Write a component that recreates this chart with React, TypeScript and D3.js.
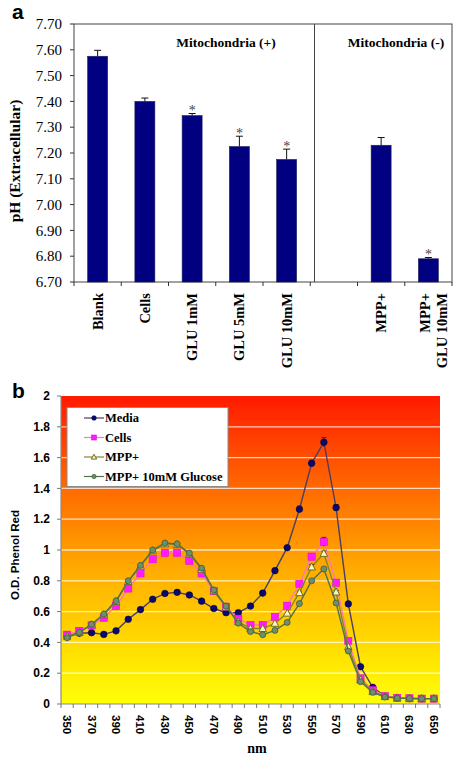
import React from "react";
import * as d3 from "d3";

// ---------- Panel a data ----------
const phCategories = ["Blank", "Cells", "GLU 1mM", "GLU 5mM", "GLU 10mM", "", "MPP+", "MPP+|GLU 10mM"];
const phValues = [7.575, 7.4, 7.345, 7.225, 7.175, NaN, 7.23, 6.79];
const phErrors = [0.023, 0.013, 0.008, 0.04, 0.04, NaN, 0.03, 0.005];
const phStars = [false, false, true, true, true, false, false, true];
const phTicks = [6.7, 6.8, 6.9, 7.0, 7.1, 7.2, 7.3, 7.4, 7.5, 7.6, 7.7];
const phSections = ["Mitochondria (+)", "Mitochondria (-)"];

// ---------- Panel b data ----------
const wavelengths = [350, 360, 370, 380, 390, 400, 410, 420, 430, 440, 450, 460, 470, 480, 490, 500,
  510, 520, 530, 540, 550, 560, 570, 580, 590, 600, 610, 620, 630, 640, 650];
const wavelengthLabels = [350, 370, 390, 410, 430, 450, 470, 490, 510, 530, 550, 570, 590, 610, 630, 650];
const mediaOD = [0.44, 0.46, 0.463, 0.452, 0.475, 0.55, 0.613, 0.68, 0.718, 0.725, 0.708, 0.668, 0.62, 0.593, 0.593, 0.636,
  0.72, 0.866, 1.015, 1.265, 1.563, 1.70, 1.275, 0.65, 0.242, 0.108, 0.05, 0.04, 0.035, 0.035, 0.035];
const cellsOD = [0.45, 0.475, 0.51, 0.56, 0.636, 0.75, 0.848, 0.94, 0.982, 0.982, 0.93, 0.848, 0.733, 0.632, 0.554, 0.513,
  0.513, 0.565, 0.638, 0.78, 0.957, 1.052, 0.788, 0.41, 0.167, 0.09, 0.052, 0.04, 0.037, 0.035, 0.035];
const mppOD = [0.44, 0.465, 0.515, 0.58, 0.665, 0.795, 0.895, 0.995, 1.04, 1.035, 0.975, 0.875, 0.735, 0.63, 0.535, 0.49,
  0.49, 0.524, 0.59, 0.723, 0.89, 0.978, 0.727, 0.372, 0.156, 0.08, 0.048, 0.04, 0.037, 0.035, 0.035];
const mppGluOD = [0.43, 0.465, 0.518, 0.584, 0.67, 0.80, 0.90, 1.0, 1.045, 1.04, 0.98, 0.882, 0.74, 0.636, 0.525, 0.47,
  0.45, 0.478, 0.53, 0.652, 0.80, 0.877, 0.656, 0.344, 0.145, 0.076, 0.045, 0.038, 0.036, 0.035, 0.035];
const mediaErr = [0, 0, 0, 0, 0, 0, 0, 0, 0, 0, 0, 0, 0, 0, 0, 0, 0, 0, 0, 0.02, 0.02, 0.03, 0.02, 0, 0, 0, 0, 0, 0, 0, 0];
const cellsErr = [0, 0, 0, 0, 0, 0, 0, 0, 0, 0, 0, 0, 0, 0, 0, 0, 0, 0, 0, 0, 0.02, 0.03, 0.015, 0, 0, 0, 0, 0, 0, 0, 0];
const mppErr = [0, 0, 0, 0.01, 0, 0, 0, 0, 0, 0, 0, 0, 0, 0, 0, 0, 0, 0, 0, 0.01, 0.015, 0.015, 0.01, 0, 0, 0, 0, 0, 0, 0, 0];
const mppGluErr = [0, 0, 0, 0, 0, 0, 0, 0, 0, 0, 0, 0, 0, 0, 0, 0, 0, 0, 0, 0, 0, 0, 0, 0, 0, 0, 0, 0, 0, 0, 0];
const odTicks = [0, 0.2, 0.4, 0.6, 0.8, 1, 1.2, 1.4, 1.6, 1.8, 2];
const seriesNames = ["Media", "Cells", "MPP+", "MPP+ 10mM Glucose"];

const SERIF = "'Liberation Serif', 'Times New Roman', serif";
const SANS = "'Liberation Sans', Arial, sans-serif";

type Series = { name: string; values: number[]; err: number[]; line: string; marker: string };

const series: Series[] = [
  { name: seriesNames[0], values: mediaOD, err: mediaErr, line: "#4a3f63", marker: "circleNavy" },
  { name: seriesNames[1], values: cellsOD, err: cellsErr, line: "#ff78b0", marker: "square" },
  { name: seriesNames[2], values: mppOD, err: mppErr, line: "#85852e", marker: "triangle" },
  { name: seriesNames[3], values: mppGluOD, err: mppGluErr, line: "#55704f", marker: "circleGreen" },
];

function Marker({ kind, x, y, s = 1 }: { kind: string; x: number; y: number; s?: number }) {
  if (kind === "circleNavy") return <circle cx={x} cy={y} r={3.3 * s} fill="#0a0a6e" stroke="#000040" strokeWidth={0.6} />;
  if (kind === "square") return <rect x={x - 3.6 * s} y={y - 3.6 * s} width={7.2 * s} height={7.2 * s} fill="#ff1aff" stroke="#e000e0" strokeWidth={0.5} />;
  if (kind === "triangle")
    return <path d={`M${x},${y - 4 * s}L${x + 3.8 * s},${y + 3 * s}L${x - 3.8 * s},${y + 3 * s}Z`} fill="#fbf6c0" stroke="#6f6f20" strokeWidth={1} />;
  return <circle cx={x} cy={y} r={3 * s} fill="#6f8f6a" stroke="#3f5a3c" strokeWidth={0.8} />;
}

function PanelA() {
  const left = 74, right = 452, top = 24, bottom = 282;
  const idx = phCategories.map((_, i) => String(i));
  const x = d3.scaleBand<string>().domain(idx).range([left, right]).paddingInner(0.577).paddingOuter(0.2885);
  const y = d3.scaleLinear().domain([6.7, 7.7]).range([bottom, top]);
  const step = x.step();
  const bw = x.bandwidth();
  const boundaries = d3.range(phCategories.length + 1).map((i) => left + i * step);
  const dividerX = (x("5") as number) - step * 0.41 + bw * 0.5;
  return (
    <g>
      <text x={12} y={19} fontFamily={SANS} fontWeight="bold" fontSize={21}>a</text>
      <rect x={left} y={top} width={right - left} height={bottom - top} fill="none" stroke="#444" strokeWidth={1} />
      <line x1={dividerX} x2={dividerX} y1={top} y2={bottom} stroke="#444" strokeWidth={1} />
      {phTicks.map((t) => (
        <g key={t}>
          <line x1={left - 4} x2={left} y1={y(t)} y2={y(t)} stroke="#333" />
          <text x={62} y={y(t)} dy="0.35em" textAnchor="end" fontFamily={SERIF} fontSize={15}>{t.toFixed(2)}</text>
        </g>
      ))}
      {boundaries.map((bx, i) => (
        <line key={i} x1={bx} x2={bx} y1={bottom} y2={bottom + 4} stroke="#333" />
      ))}
      {phValues.map((v, i) => {
        if (isNaN(v)) return null;
        const bx = x(String(i)) as number;
        const cx = bx + bw / 2;
        const ye = y(v + phErrors[i]);
        return (
          <g key={i}>
            <line x1={cx} x2={cx} y1={y(v)} y2={ye} stroke="#111" strokeWidth={1} />
            <line x1={cx - 3.5} x2={cx + 3.5} y1={ye} y2={ye} stroke="#111" strokeWidth={1} />
            <rect x={bx} y={y(v)} width={bw} height={bottom - y(v)} fill="#000080" stroke="#20205a" strokeWidth={0.6} />
            {phStars[i] && (
              <text x={cx} y={ye + 1.5} textAnchor="middle" fontFamily={SERIF} fontSize={14} fill="#444444">*</text>
            )}
          </g>
        );
      })}
      <text x={226} y={47} textAnchor="middle" fontFamily={SERIF} fontWeight="bold" fontSize={13.5}>{phSections[0]}</text>
      <text x={396} y={47} textAnchor="middle" fontFamily={SERIF} fontWeight="bold" fontSize={13.5}>{phSections[1]}</text>
      {phCategories.map((c, i) => {
        if (!c) return null;
        const cx = (x(String(i)) as number) + bw / 2;
        const lines = c.split("|");
        const offs = lines.length === 1 ? [0] : [-3, 14];
        return lines.map((ln, j) => (
          <text key={i + "-" + j} transform={`translate(${cx + offs[j]},${bottom + 11}) rotate(-90)`} dy="0.35em" textAnchor="end" fontFamily={SERIF} fontWeight="bold" fontSize={14.5}>{ln}</text>
        ));
      })}
      <text transform={`translate(15,${(top + bottom) / 2 + 8}) rotate(-90)`} dy="0.35em" textAnchor="middle" fontFamily={SERIF} fontWeight="bold" fontSize={15.5}>pH (Extracellular)</text>
    </g>
  );
}

function PanelB() {
  const left = 61, right = 440, top = 396, bottom = 704;
  const x = d3.scalePoint<number>().domain(wavelengths).range([left, right]).padding(0.5);
  const y = d3.scaleLinear().domain([0, 2]).range([bottom, top]);
  const step = x.step();
  const boundaries = d3.range(wavelengths.length + 1).map((i) => left + i * step);
  const line = (vals: number[]) =>
    d3.line<number>().x((_, i) => x(wavelengths[i]) as number).y((d) => y(d))(vals) as string;
  const legendY = [418, 437.5, 457, 476.5];
  return (
    <g>
      <defs>
        <linearGradient id="fire" x1="0" y1="0" x2="0" y2="1">
          <stop offset="0%" stopColor="#ff1a00" />
          <stop offset="30%" stopColor="#ff6a00" />
          <stop offset="60%" stopColor="#ffb400" />
          <stop offset="85%" stopColor="#ffe400" />
          <stop offset="100%" stopColor="#ffff08" />
        </linearGradient>
      </defs>
      <text x={12} y={398} fontFamily={SANS} fontWeight="bold" fontSize={21}>b</text>
      <rect x={left} y={top} width={right - left} height={bottom - top} fill="url(#fire)" />
      {odTicks.slice(1, -1).map((t) => (
        <line key={t} x1={left} x2={right} y1={y(t)} y2={y(t)} stroke="#ffffff" strokeOpacity={0.75} strokeWidth={1.3} />
      ))}
      <line x1={left} x2={left} y1={top} y2={bottom} stroke="#8a8a8a" strokeWidth={1.2} />
      <line x1={left} x2={right} y1={bottom} y2={bottom} stroke="#8a8a8a" strokeWidth={1.2} />
      {odTicks.map((t) => (
        <g key={t}>
          <line x1={left - 4} x2={left} y1={y(t)} y2={y(t)} stroke="#777" />
          <text x={50} y={y(t)} dy="0.35em" textAnchor="end" fontFamily={SANS} fontWeight="bold" fontSize={12}>{String(+t.toFixed(1))}</text>
        </g>
      ))}
      {boundaries.map((bx, i) => (
        <line key={i} x1={bx} x2={bx} y1={bottom} y2={bottom + 4} stroke="#777" />
      ))}
      {wavelengthLabels.map((w) => (
        <text key={w} transform={`translate(${x(w)},${bottom + 11}) rotate(90)`} dy="0.35em" textAnchor="start" fontFamily={SANS} fontWeight="bold" fontSize={11.5}>{w}</text>
      ))}
      <text x={257} y={753} textAnchor="middle" fontFamily={SERIF} fontWeight="bold" fontSize={14}>nm</text>
      <text transform={`translate(15,${(top + bottom) / 2 + 5}) rotate(-90)`} dy="0.35em" textAnchor="middle" fontFamily={SANS} fontWeight="bold" fontSize={11.5}>O.D. Phenol Red</text>
      {series.map((s) => (
        <g key={s.name}>
          <path d={line(s.values)} fill="none" stroke={s.line} strokeWidth={1.4} />
          {s.values.map((v, i) => {
            if (!(s.err[i] > 0)) return null;
            const cx = x(wavelengths[i]) as number;
            return (
              <g key={"e" + i}>
                <line x1={cx} x2={cx} y1={y(v - s.err[i])} y2={y(v + s.err[i])} stroke="#222" strokeWidth={0.8} />
                <line x1={cx - 2.5} x2={cx + 2.5} y1={y(v + s.err[i])} y2={y(v + s.err[i])} stroke="#222" strokeWidth={0.8} />
              </g>
            );
          })}
          {s.values.map((v, i) => (
            <Marker key={i} kind={s.marker} x={x(wavelengths[i]) as number} y={y(v)} />
          ))}
        </g>
      ))}
      <rect x={67} y={407.5} width={161} height={79} fill="#ffffff" stroke="#8a8a8a" strokeWidth={1} />
      {series.map((s, i) => (
        <g key={"lg" + s.name}>
          <line x1={84} x2={104} y1={legendY[i]} y2={legendY[i]} stroke={s.line} strokeWidth={1.2} />
          <Marker kind={s.marker} x={94} y={legendY[i]} s={0.7} />
          <text x={105} y={legendY[i]} dy="0.35em" fontFamily={SERIF} fontWeight="bold" fontSize={12.5}>{s.name}</text>
        </g>
      ))}
    </g>
  );
}

export default function App() {
  return (
    <svg width={458} height={759} style={{ position: "absolute", left: 0, top: 0, background: "#fff" }}>
      <rect x={0} y={0} width={458} height={759} fill="#fff" />
      <PanelA />
      <PanelB />
    </svg>
  );
}
